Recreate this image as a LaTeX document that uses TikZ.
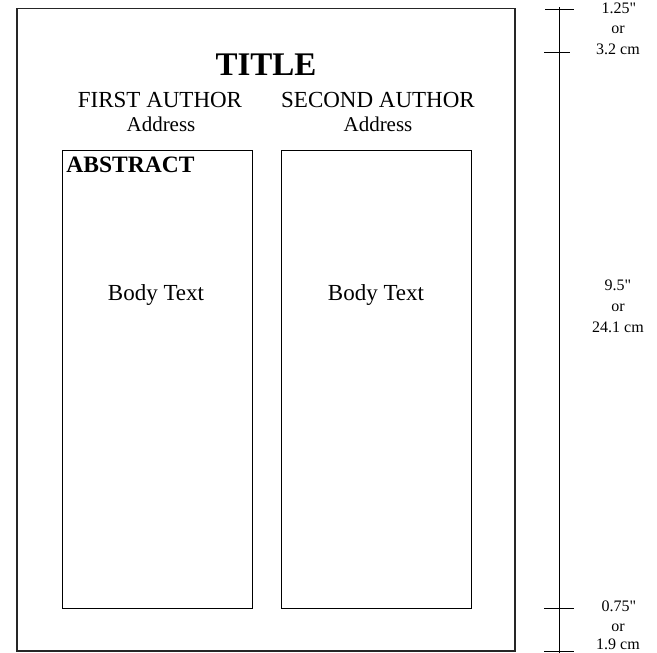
\documentclass[tikz,border=0pt]{standalone}
\usepackage{fontspec}
\setmainfont{Liberation Serif}
\newfontfamily\rulerfont{Liberation Serif}
\begin{document}
\begin{tikzpicture}[x=1pt,y=-1pt,
  txt/.style={anchor=base,inner sep=0pt,outer sep=0pt},
  big/.style={txt,font=\fontsize{23}{27}\selectfont},
  addr/.style={txt,font=\fontsize{21}{25}\selectfont},
  scl/.style={txt,font=\rulerfont\fontsize{16}{19}\selectfont},
  pageline/.style={draw=black!85,line width=1.2pt},
  colbox/.style={draw=black,line width=1pt},
  ruler/.style={draw=black,line width=1pt}]
\useasboundingbox (0,0) rectangle (657,653);
% page
\draw[pageline] (17,8.5) rectangle (515,651);
% columns
\draw[colbox] (62,150) rectangle (252,608);
\draw[colbox] (281,150) rectangle (471,608);
% texts
\node[txt,font=\fontsize{33}{38}\selectfont\bfseries] (title) at (266,75) {TITLE};
\node[big] (a1) at (160,107) {FIRST AUTHOR};
\node[big] (a2) at (378,107) {SECOND AUTHOR};
\node[addr] (ad1) at (161,131) {Address};
\node[addr] (ad2) at (378,131) {Address};
\node[txt,anchor=base west,font=\fontsize{23.5}{27}\selectfont\bfseries] (abs) at (66.5,172) {ABSTRACT};
\node[big] (b1) at (156,300) {Body Text};
\node[big] (b2) at (376,300) {Body Text};
% ruler
\coordinate (r0) at (559,7);
\coordinate (r1) at (559,653);
\draw[ruler] (r0) -- (r1);
\coordinate (k1l) at (545,9);   \coordinate (k1r) at (574,9);
\coordinate (k2l) at (544,52);  \coordinate (k2r) at (570,52);
\coordinate (k3l) at (544,608); \coordinate (k3r) at (574,608);
\coordinate (k4l) at (544,651); \coordinate (k4r) at (574,651);
\draw[ruler] (k1l) -- (k1r);
\draw[ruler] (k2l) -- (k2r);
\draw[ruler] (k3l) -- (k3r);
\draw[ruler] (k4l) -- (k4r);
% ruler labels
\node[scl] (t1a) at (619,13) {1.25"};
\node[scl] (t1b) at (618,33) {or};
\node[scl] (t1c) at (618,54) {3.2 cm};
\node[scl] (t2a) at (618,290) {9.5"};
\node[scl] (t2b) at (618,311) {or};
\node[scl] (t2c) at (618,332) {24.1 cm};
\node[scl] (t3a) at (619,611) {0.75"};
\node[scl] (t3b) at (618,631) {or};
\node[scl] (t3c) at (618,649) {1.9 cm};
\end{tikzpicture}
\end{document}
